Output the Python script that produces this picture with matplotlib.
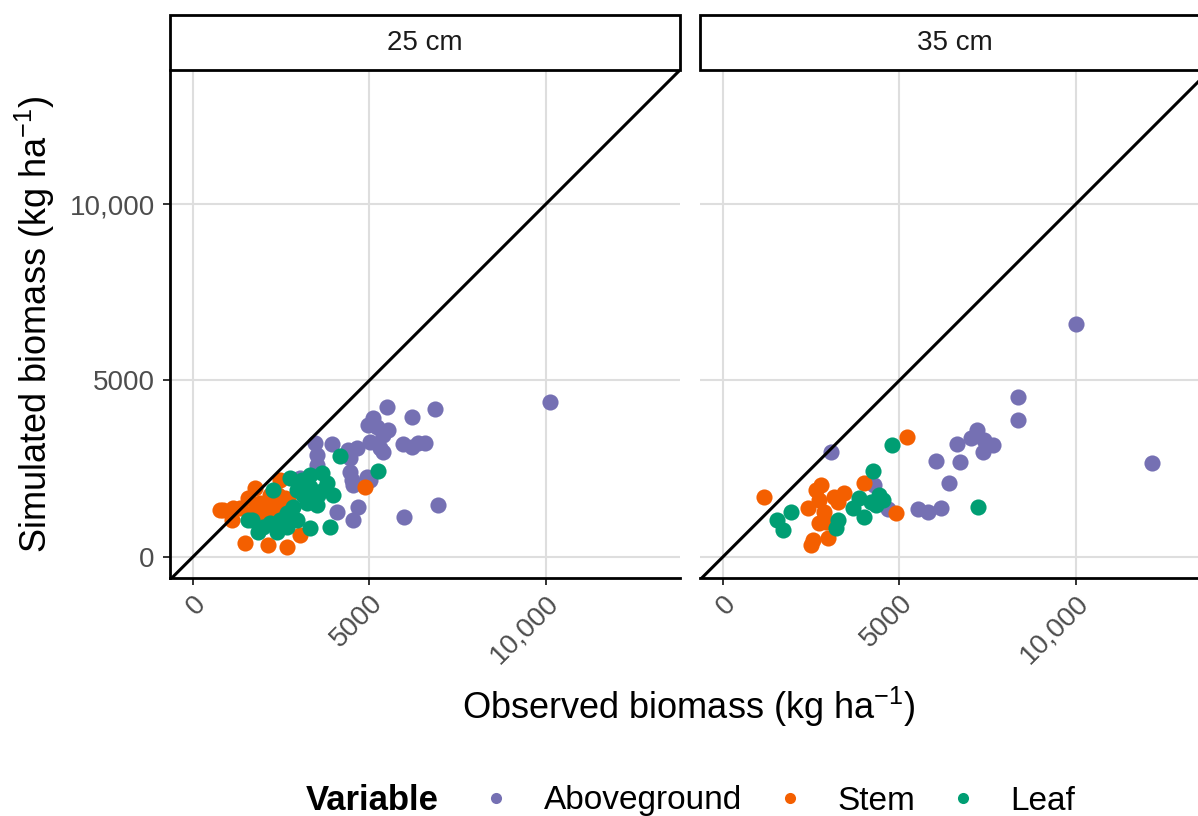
import matplotlib
matplotlib.use("Agg")
import matplotlib.pyplot as plt
from matplotlib.lines import Line2D
from matplotlib.patches import Rectangle

plt.rcParams["font.family"] = ["Liberation Sans", "DejaVu Sans"]
plt.rcParams["mathtext.default"] = "regular"

# ---------------------------------------------------------------------------
# Data
# ---------------------------------------------------------------------------
panels = ["25 cm", "35 cm"]
variables = ["Aboveground", "Stem", "Leaf"]
colors = {"Aboveground": "#7570B3", "Stem": "#F45F00", "Leaf": "#009E73"}

# 25 cm
ag25_obs = [5487, 6196, 6856, 5109, 4967, 5204, 5534, 5392, 5014, 5298,
            5392, 4637, 4400, 4448, 3929, 3456, 3504, 3504, 5958, 6196,
            6385, 6573, 4448, 4495, 4542, 4920, 5014, 3031, 4070, 4684,
            4542, 5986, 6932, 10114]
ag25_sim = [4258, 3975, 4183, 3929, 3740, 3692, 3598, 3456, 3267, 3078,
            2984, 3078, 3031, 2795, 3192, 3220, 2890, 2606, 3192, 3126,
            3220, 3220, 2417, 2181, 2040, 2275, 2181, 2229, 1266, 1408,
            1048, 1115, 1473, 4400]
stem25_obs = [859, 1142, 1096, 1756, 1567, 1898, 2181, 2465, 2417, 2606,
              2087, 1946, 2181, 1473, 2134, 2654, 3031, 4873, 1331, 1709,
              2370, 2559, 2229, 765, 2700]
stem25_sim = [1332, 1379, 1048, 1946, 1662, 1520, 1756, 2181, 1756, 1662,
              1332, 1095, 1048, 388, 340, 292, 623, 1975, 1379, 1284,
              1142, 1426, 1473, 1332, 1600]
leaf25_obs = [4165, 5250, 2748, 3315, 3646, 3787, 3975, 3881, 3315, 2370,
              1851, 1567, 2937, 3126, 3220, 3504, 3551, 2842, 2654, 2465,
              2937, 2654, 2181, 2276, 3315, 3692, 3079, 1662, 1992]
leaf25_sim = [2861, 2436, 2229, 2323, 2389, 2088, 1756, 858, 812, 717,
              717, 1048, 1898, 1756, 1520, 1473, 1756, 1426, 1237, 1048,
              1048, 858, 954, 1898, 1992, 1898, 2181, 1048, 858]

# 35 cm
ag35_obs = [3060, 6034, 6724, 6413, 5516, 5799, 6176, 4666, 4287, 6630,
            7196, 7026, 7404, 7357, 7640, 10000, 8366, 8366, 12145]
ag35_sim = [2984, 2720, 2682, 2088, 1360, 1284, 1379, 1360, 2040, 3201,
            3598, 3362, 3314, 2984, 3173, 6592, 4524, 3881, 2672]
stem35_obs = [5213, 1152, 2776, 2634, 4004, 4901, 2400, 2729, 3154, 3438,
              3249, 2871, 2918, 2729, 2540, 2965, 2493]
stem35_sim = [3409, 1709, 2040, 1898, 2106, 1237, 1379, 1614, 1709, 1804,
              1567, 1284, 1000, 954, 481, 529, 340]
leaf35_obs = [4779, 4241, 7215, 1530, 1690, 1926, 3249, 3201, 3674, 3862,
              4004, 4193, 4430, 4524, 4335]
leaf35_sim = [3173, 2445, 1426, 1048, 765, 1265, 1048, 812, 1379, 1662,
              1142, 1567, 1756, 1614, 1473]

data = {
    "25 cm": {"Aboveground": (ag25_obs, ag25_sim),
              "Stem": (stem25_obs, stem25_sim),
              "Leaf": (leaf25_obs, leaf25_sim)},
    "35 cm": {"Aboveground": (ag35_obs, ag35_sim),
              "Stem": (stem35_obs, stem35_sim),
              "Leaf": (leaf35_obs, leaf35_sim)},
}

ticks = [0, 5000, 10000]
tick_labels = ["0", "5000", "10,000"]

# ---------------------------------------------------------------------------
W, H = 1198, 816
fig = plt.figure(figsize=(W / 100, H / 100), dpi=100)

panel_left = [170, 700]
panel_w, panel_top, panel_bot = 510, 70, 578
strip_h = 55

for i, name in enumerate(panels):
    ax = fig.add_axes([panel_left[i] / W, 1 - panel_bot / H,
                       panel_w / W, (panel_bot - panel_top) / H])
    for var in variables:
        obs, sim = data[name][var]
        ax.scatter(obs, sim, s=135, color=colors[var], linewidths=0, zorder=3)
    ax.axline((0, 0), slope=1, color="black", lw=2.2, zorder=4)

    ax.set_xlim(-650, 13800)
    ax.set_ylim(-600, 13800)
    ax.set_xticks(ticks)
    ax.set_yticks(ticks)
    ax.set_xticklabels(tick_labels, rotation=45, ha="right", va="top",
                       rotation_mode="anchor", fontsize=20, color="#4D4D4D")
    ax.grid(True, color="#DEDEDE", lw=1.5, zorder=0)
    ax.set_axisbelow(True)
    ax.tick_params(axis="both", length=5, width=1.4, color="#333333",
                   pad=4)
    ax.tick_params(axis="y", pad=6)

    for side in ["top", "right"]:
        ax.spines[side].set_visible(False)
    ax.spines["bottom"].set_linewidth(2)
    if i == 0:
        ax.spines["left"].set_linewidth(2)
        ax.set_yticklabels(tick_labels, fontsize=20, color="#4D4D4D")
        ax.set_ylabel(r"Simulated biomass (kg ha$^{-1}$)", fontsize=26)
        ax.yaxis.set_label_coords(-0.222, 0.5)
    else:
        ax.spines["left"].set_visible(False)
        ax.tick_params(axis="y", left=False, labelleft=False)

    # facet strip
    sh = strip_h / (panel_bot - panel_top)
    ax.add_patch(Rectangle((0, 1), 1, sh, transform=ax.transAxes,
                           facecolor="white", edgecolor="black", lw=2,
                           clip_on=False, zorder=5))
    ax.text(0.5, 1 + sh / 2, name, transform=ax.transAxes, ha="center",
            va="center", fontsize=20, color="#1A1A1A", zorder=6)

fig.text(689 / W, 1 - 707 / H, r"Observed biomass (kg ha$^{-1}$)",
         ha="center", va="center", fontsize=26)

# legend
fig.text(306 / W, 1 - 801 / H, "Variable", ha="left", va="center",
         fontsize=25, fontweight="bold")
handles = [Line2D([], [], ls="", marker="o", markersize=8,
                  markerfacecolor=colors[v], markeredgewidth=0)
           for v in variables]
fig.legend(handles, variables, loc="center left",
           bbox_to_anchor=(484 / W, 1 - 801 / H), ncol=3, frameon=False,
           fontsize=24, handlelength=0.72, handletextpad=1.07,
           columnspacing=1.07, borderpad=0, borderaxespad=0)

fig.savefig("out.png", dpi=100)
